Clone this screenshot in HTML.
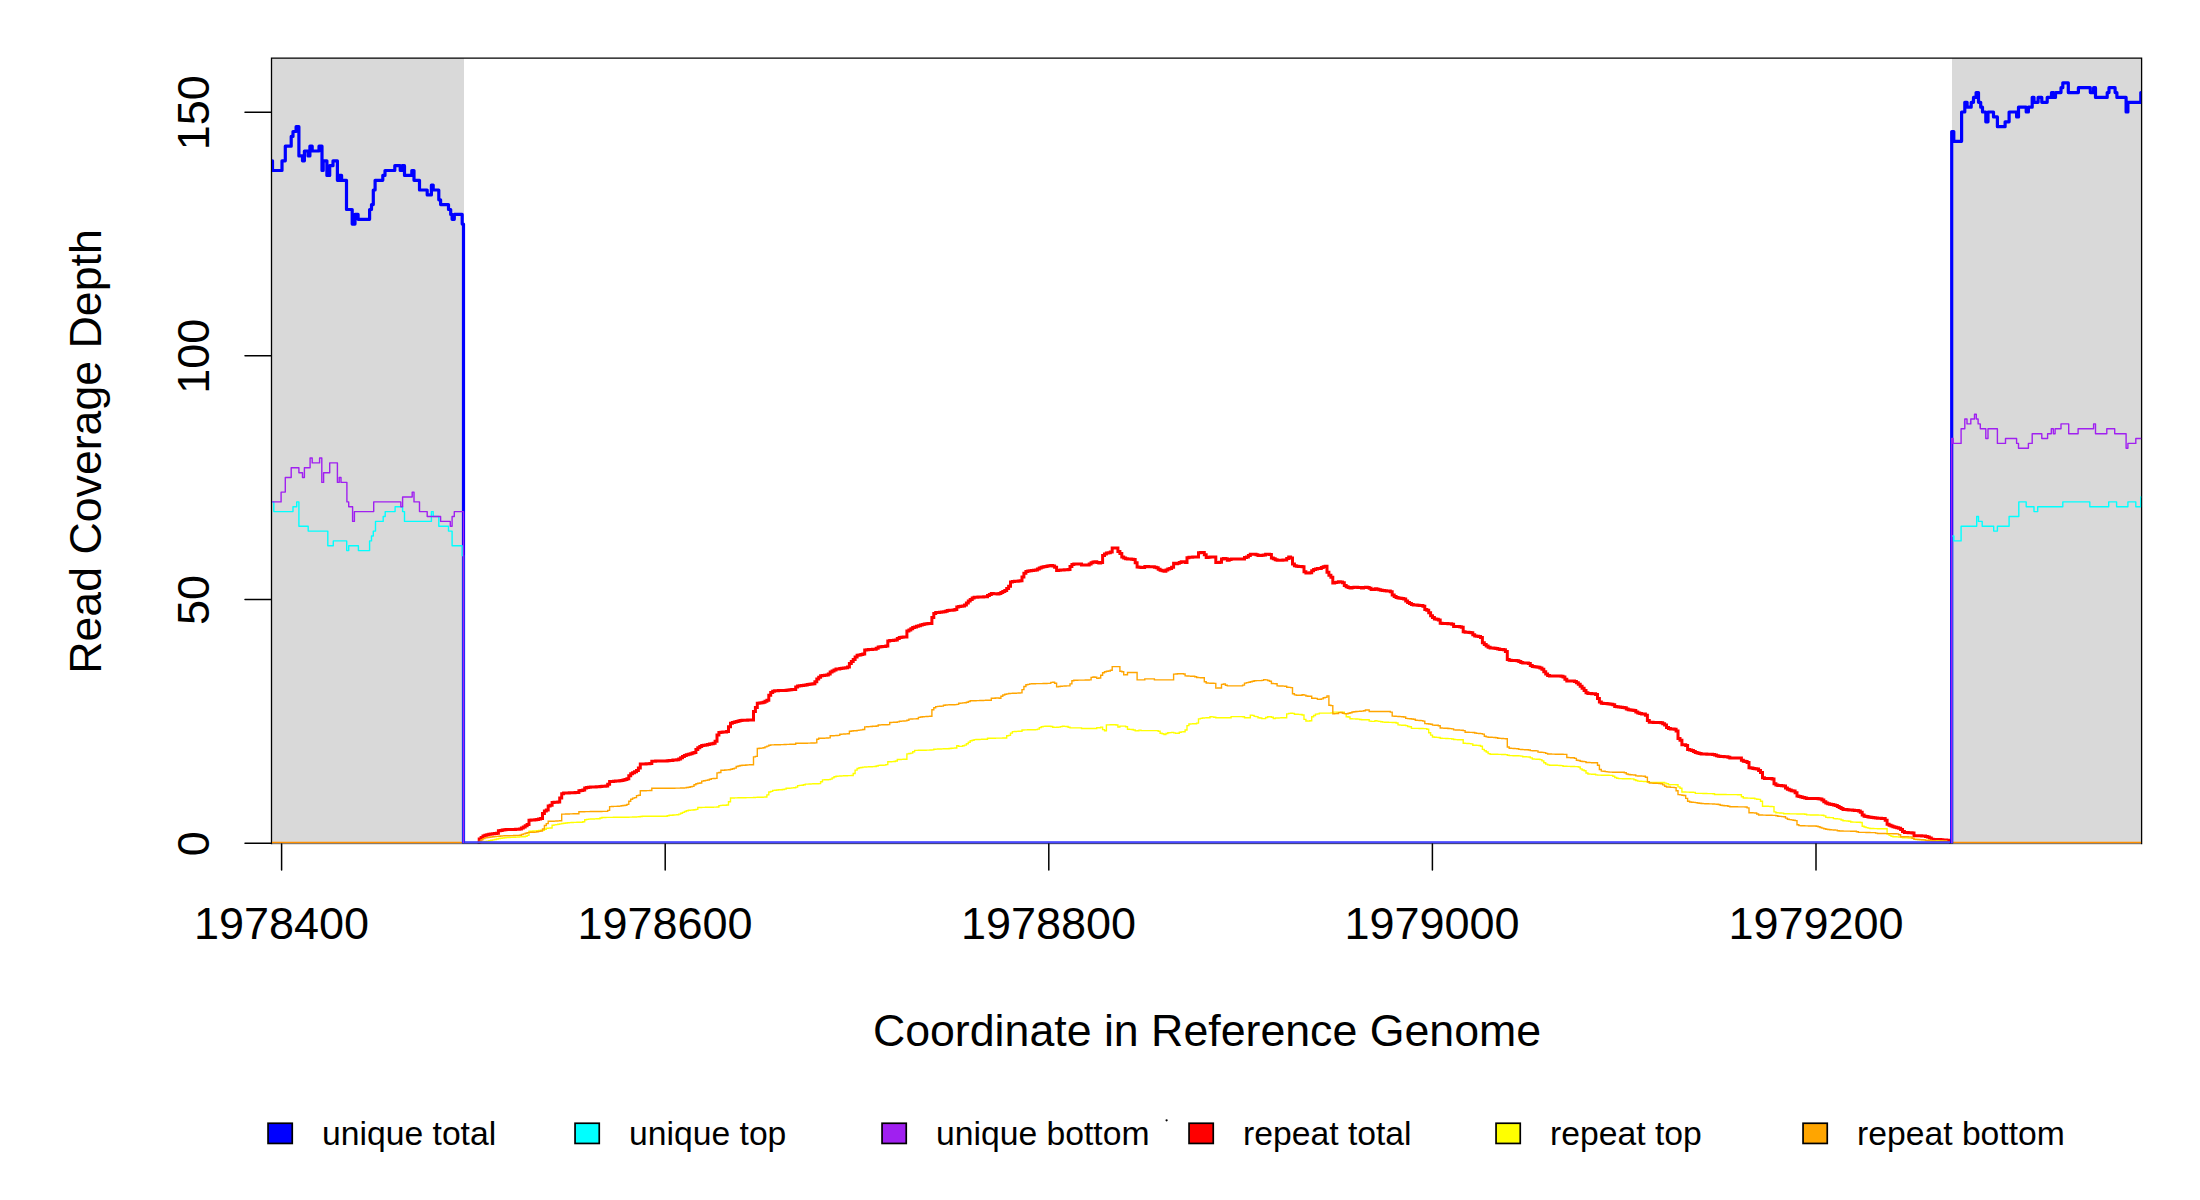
<!DOCTYPE html>
<html lang="en"><head><meta charset="utf-8"><title>Read Coverage Depth</title>
<style>html,body{margin:0;padding:0;background:#fff}body{width:2200px;height:1200px;overflow:hidden}</style></head>
<body>
<svg width="2200" height="1200" viewBox="0 0 2200 1200" style="display:block">
<rect width="2200" height="1200" fill="#fff"/>
<rect x="272" y="58" width="192" height="785" fill="#d9d9d9"/>
<rect x="1952" y="58" width="189" height="785" fill="#d9d9d9"/>
<path d="M271.5,844.2V58.2H2141.6V844.2" fill="none" stroke="#000" stroke-width="1.3"/>
<clipPath id="pc"><rect x="272" y="58" width="1869.1999999999998" height="785.5"/></clipPath>
<g clip-path="url(#pc)">
<path d="M477.5,843.0H479.2V839.1H481.1V837.5H483.0V836.0H484.9V835.3H486.8V834.7H488.8V834.3H490.7V834.1H492.6V833.8H494.5V833.6H496.4V833.3H498.4V830.7H500.3V830.4H502.2V830.1H504.1V829.8H506.0V829.6H507.9V829.6H509.9V829.5H511.8V829.4H513.7V829.4H515.6V829.3H517.5V829.2H519.5V829.0H521.4V828.0H523.3V827.0H525.2V825.8H527.1V824.4H529.0V820.2H531.0V820.1H532.9V819.9H534.8V819.8H536.7V819.6H538.6V819.0H540.6V818.4H542.5V813.6H544.4V811.1H546.3V810.1H548.2V806.0H550.1V805.2H552.1V802.4H554.0V802.3H555.9V802.2H557.8V802.1H559.7V797.9H561.7V793.8H563.6V793.1H565.5V792.9H567.4V792.9H569.3V792.8H571.2V792.7H573.2V792.7H575.1V792.6H577.0V792.5H578.9V790.7H580.8V790.4H582.8V790.1H584.7V787.9H586.6V787.6H588.5V787.3H590.4V787.1H592.3V787.0H594.3V786.9H596.2V786.8H598.1V786.7H600.0V786.5H601.9V786.3H603.9V786.2H605.8V786.0H607.7V784.2H609.6V781.6H611.5V781.4H613.4V781.3H615.4V781.1H617.3V781.0H619.2V780.8H621.1V780.4H623.0V779.9H625.0V779.5H626.9V778.7H628.8V775.8H630.7V773.7H632.6V772.8H634.5V771.8H636.5V770.5H638.4V768.1H640.3V764.1H642.2V764.0H644.1V763.9H646.1V763.8H648.0V763.8H649.9V763.6H651.8V761.2H655.6V761.1H659.5V761.0H663.3V760.9H667.2V760.8H669.1V760.6H671.0V760.4H672.9V760.1H674.8V759.9H676.7V759.7H678.7V758.9H680.6V757.7H682.5V756.6H684.4V755.6H686.3V754.8H688.3V754.2H690.2V753.7H692.1V753.1H694.0V752.5H695.9V749.6H697.8V747.8H699.8V746.5H701.7V745.6H703.6V745.3H705.5V744.9H707.4V744.5H709.4V744.1H711.3V743.7H713.2V743.3H715.1V741.2H717.0V735.0H718.9V732.6H720.9V732.3H722.8V732.1H724.7V731.9H726.6V731.5H728.5V726.7H730.5V723.2H732.4V722.6H734.3V722.1H736.2V721.5H738.1V721.0H740.0V720.5H742.0V720.3H743.9V720.2H745.8V720.2H747.7V720.1H749.6V720.1H751.6V719.9H753.5V711.5H755.4V707.5H757.3V703.2H759.2V702.9H761.1V702.7H763.1V702.2H765.0V701.2H766.9V700.2H768.8V695.2H770.7V692.5H772.7V691.2H774.6V690.8H776.5V690.7H778.4V690.6H780.3V690.5H782.3V690.5H784.2V690.4H786.1V690.2H788.0V690.0H789.9V689.8H791.8V689.6H793.8V689.4H795.7V686.9H797.6V686.1H799.5V685.8H801.4V685.5H803.4V685.3H805.3V684.9H807.2V684.6H809.1V684.3H811.0V684.0H812.9V683.7H814.9V681.8H816.8V679.1H818.7V677.2H820.6V675.8H822.5V675.6H824.5V675.3H826.4V675.1H828.3V674.0H830.2V672.0H832.1V670.9H834.0V670.0H836.0V669.1H837.9V668.9H839.8V668.6H841.7V668.3H843.6V668.0H845.6V667.7H847.5V667.0H849.4V663.6H851.3V661.5H853.2V659.4H855.1V657.1H857.1V655.3H859.0V654.9H860.9V654.5H862.8V654.1H864.7V650.1H866.7V649.7H868.6V649.6H870.5V649.5H872.4V649.3H874.3V649.2H876.2V648.2H878.2V647.0H880.1V646.8H882.0V646.6H883.9V646.4H885.8V645.9H887.8V640.9H889.7V640.6H891.6V640.5H893.5V640.3H895.4V640.1H897.3V638.5H899.3V637.4H901.2V637.2H903.1V637.1H905.0V636.9H906.9V631.1H908.9V629.9H910.8V628.7H912.7V627.6H914.6V626.9H916.5V626.3H918.4V625.7H920.4V625.1H922.3V624.5H924.2V624.1H926.1V623.8H928.0V623.6H930.0V623.4H931.9V617.4H933.8V613.4H935.7V612.6H937.6V612.4H939.5V612.2H941.5V612.0H943.4V611.7H945.3V611.2H947.2V610.4H949.1V610.3H951.1V610.2H953.0V610.1H954.9V609.4H956.8V607.0H958.7V606.6H960.6V606.3H962.6V605.9H964.5V605.0H966.4V603.1H968.3V601.1H970.2V599.5H972.2V598.1H974.1V597.2H976.0V597.2H977.9V597.1H979.8V597.0H981.7V596.9H983.7V596.8H985.6V596.7H987.5V595.6H989.4V594.4H991.3V593.6H993.3V593.7H995.2V593.8H997.1V593.9H999.0V593.6H1000.9V592.6H1002.8V591.6H1004.8V590.5H1006.7V588.4H1008.6V586.3H1010.5V582.1H1012.4V581.5H1014.4V581.3H1016.3V581.2H1018.2V581.0H1020.1V580.8H1022.0V577.0H1023.9V573.3H1025.9V571.6H1027.8V571.1H1029.7V570.8H1031.6V570.5H1033.5V570.3H1035.5V570.0H1037.4V569.0H1039.3V567.9H1041.2V567.2H1043.1V566.8H1045.0V566.5H1047.0V566.1H1048.9V565.7H1050.8V565.5H1052.7V566.0H1054.6V567.2H1056.6V570.5H1058.5V570.2H1060.4V570.0H1062.3V569.9H1064.2V569.8H1066.1V569.7H1068.1V569.6H1070.0V566.4H1071.9V564.5H1073.8V563.9H1081.5V565.1H1089.2V564.1H1091.1V562.7H1093.0V562.1H1094.9V561.8H1096.8V562.6H1098.8V562.9H1100.7V562.5H1102.6V555.6H1104.5V554.0H1106.4V552.9H1108.3V552.7H1110.3V552.0H1112.2V548.1H1117.9V551.4H1119.9V553.5H1121.8V557.0H1123.7V557.9H1125.6V558.7H1127.5V558.9H1129.4V559.0H1131.4V559.2H1133.3V559.4H1135.2V562.8H1137.1V567.1H1139.0V567.3H1141.0V567.4H1142.9V567.4H1144.8V566.5H1146.7V566.6H1148.6V566.7H1150.5V566.8H1152.5V566.8H1154.4V567.3H1156.3V567.8H1158.2V569.2H1160.1V570.3H1162.1V570.8H1164.0V571.3H1165.9V570.1H1167.8V569.0H1169.7V568.6H1171.6V567.3H1173.6V563.3H1175.5V563.8H1177.4V563.2H1179.3V562.5H1181.2V561.8H1185.1V562.6H1187.0V557.8H1188.9V557.3H1190.8V557.2H1192.7V557.1H1194.7V557.0H1196.6V556.9H1198.5V552.7H1200.4V552.4H1202.3V552.5H1204.3V554.7H1206.2V557.4H1208.1V557.2H1210.0V556.9H1215.8V562.6H1217.7V562.4H1219.6V562.3H1221.5V559.0H1223.4V558.5H1225.4V558.8H1227.3V560.2H1229.2V559.6H1231.1V559.1H1242.6V558.9H1244.5V557.6H1246.5V557.1H1248.4V555.6H1250.3V554.2H1256.0V554.7H1258.0V555.5H1259.9V555.4H1261.8V555.3H1263.7V555.0H1265.6V554.2H1269.5V554.4H1271.4V557.9H1273.3V558.8H1275.2V559.8H1277.1V560.3H1279.1V560.3H1281.0V560.2H1282.9V560.1H1284.8V560.1H1286.7V558.5H1288.7V556.9H1290.6V558.0H1292.5V564.1H1294.4V565.8H1296.3V566.3H1298.2V566.5H1300.2V566.6H1302.1V566.8H1304.0V571.7H1305.9V573.0H1307.8V572.9H1309.8V572.7H1311.7V570.7H1313.6V569.4H1315.5V568.9H1317.4V568.6H1319.3V568.4H1321.3V567.5H1323.2V566.7H1325.1V566.2H1327.0V572.3H1328.9V575.2H1330.9V577.2H1332.8V582.9H1334.7V582.6H1336.6V582.3H1338.5V581.7H1340.4V581.9H1342.4V582.8H1344.3V585.4H1346.2V586.8H1348.1V587.6H1350.0V587.9H1352.0V587.5H1353.9V587.2H1357.7V587.4H1359.6V587.5H1361.5V588.0H1363.5V587.5H1365.4V587.2H1367.3V587.4H1369.2V588.2H1371.1V589.4H1373.1V589.5H1375.0V588.8H1376.9V589.3H1378.8V589.7H1380.7V590.2H1382.6V590.5H1384.6V590.7H1386.5V590.9H1388.4V591.1H1390.3V591.7H1392.2V595.0H1394.2V596.4H1396.1V597.6H1398.0V597.9H1399.9V598.2H1401.8V598.5H1403.7V599.0H1405.7V601.0H1407.6V602.5H1409.5V603.5H1411.4V604.5H1413.3V605.0H1415.3V605.1H1417.2V605.3H1419.1V605.4H1421.0V605.5H1422.9V606.2H1424.8V609.4H1426.8V610.2H1428.7V612.7H1430.6V615.8H1432.5V617.5H1434.4V619.1H1436.4V619.3H1438.3V620.1H1440.2V623.3H1442.1V623.4H1444.0V623.5H1445.9V623.6H1447.9V623.7H1449.8V623.8H1451.7V624.3H1453.6V626.4H1455.5V626.5H1457.5V626.6H1459.4V626.7H1461.3V627.3H1463.2V631.8H1465.1V632.2H1467.0V632.3H1469.0V632.4H1470.9V632.8H1472.8V634.7H1474.7V636.0H1476.6V636.3H1478.6V636.5H1480.5V637.5H1482.4V642.7H1484.3V644.4H1486.2V645.9H1488.1V647.3H1490.1V647.9H1492.0V648.1H1493.9V648.2H1495.8V648.4H1497.7V649.0H1499.7V649.4H1501.6V649.5H1503.5V649.7H1505.4V651.5H1507.3V659.6H1509.2V660.3H1511.2V660.4H1513.1V660.5H1515.0V660.6H1516.9V660.8H1518.8V661.6H1520.8V662.5H1522.7V662.9H1524.6V663.0H1526.5V663.1H1528.4V663.5H1530.3V665.5H1532.3V666.4H1534.2V666.7H1536.1V667.0H1538.0V667.3H1539.9V668.1H1541.9V669.3H1543.8V671.7H1545.7V674.0H1547.6V675.5H1549.5V676.0H1553.4V676.1H1557.2V676.1H1561.0V676.3H1563.0V677.1H1564.9V679.3H1566.8V680.9H1568.7V680.9H1570.6V681.0H1572.5V681.1H1574.5V681.4H1576.4V682.8H1578.3V684.2H1580.2V686.3H1582.1V688.3H1584.1V690.4H1586.0V692.7H1587.9V693.5H1589.8V693.6H1591.7V693.7H1593.6V693.8H1595.6V694.6H1597.5V698.4H1599.4V702.0H1601.3V703.2H1603.2V703.4H1605.2V703.6H1607.1V703.8H1609.0V704.0H1610.9V704.2H1612.8V704.8H1614.7V706.5H1616.7V706.8H1618.6V707.0H1620.5V707.2H1622.4V707.4H1624.3V707.8H1626.3V708.9H1628.2V709.8H1630.1V710.1H1632.0V710.3H1633.9V710.6H1635.8V712.0H1637.8V713.0H1639.7V713.6H1641.6V713.9H1643.5V714.0H1645.4V715.3H1647.4V720.6H1649.3V722.2H1651.2V722.3H1653.1V722.4H1655.0V722.4H1656.9V722.5H1658.9V722.5H1660.8V722.8H1662.7V723.7H1664.6V725.1H1666.5V727.6H1668.5V728.6H1670.4V728.9H1672.3V729.1H1674.2V729.2H1676.1V731.1H1678.0V738.6H1680.0V740.2H1681.9V744.7H1683.8V744.8H1685.7V745.5H1687.6V749.6H1689.6V750.1H1691.5V750.6H1693.4V751.5H1695.3V752.5H1697.2V753.1H1699.1V753.5H1701.1V754.0H1703.0V754.1H1706.8V754.2H1710.7V754.3H1712.6V754.5H1714.5V755.1H1716.4V755.7H1718.3V756.3H1720.2V756.6H1722.2V756.6H1724.1V756.7H1726.0V756.8H1727.9V757.2H1729.8V757.9H1733.7V758.0H1737.5V758.1H1741.4V760.3H1743.3V761.3H1745.2V761.5H1747.1V762.5H1749.0V767.7H1750.9V768.0H1752.9V768.4H1754.8V768.7H1756.7V769.0H1758.6V770.5H1760.5V772.4H1762.5V777.7H1764.4V778.4H1766.3V778.5H1768.2V778.5H1770.1V778.6H1772.0V779.1H1774.0V783.8H1775.9V785.1H1777.8V785.5H1779.7V785.6H1781.6V785.7H1783.6V786.1H1785.5V787.9H1787.4V789.2H1789.3V790.1H1791.2V790.7H1793.1V791.0H1795.1V792.8H1797.0V796.0H1798.9V796.5H1800.8V797.0H1802.7V797.6H1804.7V798.1H1806.6V798.4H1812.3V798.5H1818.1V798.7H1820.0V799.1H1821.9V799.9H1823.8V801.7H1825.8V802.9H1827.7V803.7H1829.6V804.2H1831.5V804.5H1833.4V804.9H1835.3V805.4H1837.3V806.4H1839.2V807.4H1841.1V808.5H1843.0V809.4H1844.9V809.5H1846.9V809.7H1848.8V809.9H1850.7V810.1H1852.6V810.2H1854.5V810.4H1856.4V810.6H1858.4V811.1H1860.3V812.2H1862.2V815.1H1864.1V816.3H1866.0V816.6H1868.0V816.9H1869.9V817.2H1871.8V817.5H1873.7V817.8H1875.6V818.1H1877.5V818.2H1879.5V818.3H1881.4V818.4H1883.3V818.4H1885.2V820.3H1887.1V824.2H1889.1V825.2H1891.0V826.1H1892.9V826.7H1894.8V827.2H1896.7V827.8H1898.6V828.3H1900.6V829.5H1902.5V831.5H1904.4V832.5H1906.3V832.6H1908.2V832.7H1910.2V832.7H1912.1V833.0H1914.0V835.7H1917.8V835.8H1921.7V835.9H1925.5V836.5H1927.4V837.0H1929.3V838.0H1931.3V839.3H1933.2V839.4H1935.1V839.4H1937.0V839.5H1938.9V839.6H1940.8V839.7H1942.8V839.9H1944.7V840.1H1946.6V840.3H1948.5V841.0H1950.4V843.0H1951.1V843.0" fill="none" stroke="#ff0000" stroke-width="3.0" stroke-linejoin="miter" stroke-linecap="butt"/>
<path d="M480.0,843.0H481.1V842.5H483.0V842.0H484.9V841.5H486.8V841.1H488.8V840.7H490.7V840.3H492.6V839.9H494.5V839.5H496.4V839.0H498.4V838.5H500.3V838.2H502.2V838.0H504.1V837.8H506.0V837.6H507.9V837.5H509.9V837.4H511.8V837.3H513.7V837.2H515.6V837.1H517.5V837.0H519.5V836.9H521.4V836.8H523.3V836.7H525.2V836.2H527.1V835.4H529.0V831.3H531.0V831.2H532.9V831.0H534.8V830.9H536.7V830.7H538.6V830.5H540.6V830.3H542.5V830.2H544.4V829.3H546.3V828.3H548.2V828.1H550.1V828.0H552.1V825.2H554.0V824.9H555.9V824.6H557.8V824.2H559.7V823.9H561.7V823.5H563.6V823.2H565.5V823.0H567.4V822.8H569.3V822.6H571.2V822.5H573.2V822.4H575.1V822.4H577.0V822.3H578.9V822.3H580.8V822.2H582.8V821.7H584.7V819.8H586.6V819.4H588.5V819.1H590.4V819.0H592.3V819.0H594.3V818.9H596.2V818.8H598.1V818.7H600.0V818.0H601.9V817.5H605.8V817.4H609.6V817.4H613.4V817.3H617.3V817.3H621.1V817.2H625.0V817.2H628.8V817.1H632.6V817.0H636.5V816.9H638.4V816.7H640.3V816.5H642.2V816.3H648.0V816.3H655.6V816.2H663.3V816.2H667.2V815.8H669.1V815.3H671.0V815.2H672.9V815.0H674.8V814.9H676.7V814.7H678.7V814.1H680.6V813.2H682.5V812.4H684.4V811.5H686.3V810.7H688.3V810.3H690.2V810.1H692.1V810.0H694.0V809.8H695.9V809.4H697.8V807.5H701.7V807.4H705.5V807.3H709.4V807.2H713.2V807.1H717.0V807.0H718.9V805.6H720.9V805.4H722.8V805.3H724.7V805.2H726.6V805.0H728.5V801.7H730.5V798.0H734.3V797.9H738.1V797.8H742.0V797.7H745.8V797.6H749.6V797.6H753.5V797.5H755.4V797.4H757.3V797.3H759.2V797.2H761.1V797.2H763.1V797.1H765.0V797.0H766.9V794.9H768.8V792.0H770.7V791.4H772.7V790.4H774.6V790.2H776.5V790.0H778.4V789.8H780.3V789.7H782.3V789.5H784.2V789.1H786.1V788.3H788.0V788.2H789.9V788.1H791.8V787.9H793.8V787.8H795.7V787.1H797.6V785.6H799.5V785.4H801.4V785.3H803.4V784.7H805.3V784.1H807.2V784.1H809.1V784.0H811.0V783.9H812.9V783.8H814.9V783.8H816.8V783.7H818.7V783.6H820.6V781.7H822.5V779.9H824.5V779.8H826.4V779.7H828.3V779.6H830.2V779.1H832.1V777.9H834.0V776.7H836.0V776.2H837.9V776.1H839.8V776.0H841.7V775.9H843.6V775.8H845.6V775.7H847.5V775.6H849.4V775.6H851.3V775.5H853.2V773.5H855.1V770.1H857.1V768.5H859.0V767.8H860.9V767.5H862.8V767.1H864.7V767.0H866.7V766.9H868.6V766.8H870.5V766.7H872.4V766.6H874.3V766.5H876.2V766.0H878.2V765.4H880.1V765.3H882.0V765.2H883.9V765.1H885.8V764.6H887.8V761.8H889.7V761.7H891.6V761.6H893.5V761.5H895.4V761.0H897.3V759.5H899.3V759.5H901.2V759.4H903.1V759.3H905.0V759.2H906.9V753.9H908.9V753.5H910.8V753.1H912.7V751.8H914.6V750.4H918.4V750.3H922.3V750.2H926.1V750.1H930.0V750.0H931.9V749.9H933.8V749.2H935.7V749.1H937.6V749.0H939.5V749.0H941.5V748.9H943.4V748.8H945.3V748.8H947.2V748.7H949.1V748.5H951.1V748.3H953.0V748.1H954.9V748.0H956.8V745.7H958.7V746.4H962.6V745.7H964.5V745.1H966.4V743.8H968.3V742.2H970.2V740.8H972.2V740.2H974.1V739.6H976.0V739.5H977.9V739.5H979.8V739.4H981.7V739.3H983.7V739.2H985.6V739.2H987.5V738.3H991.3V738.2H995.2V738.1H999.0V738.1H1002.8V738.0H1006.7V735.8H1008.6V735.4H1010.5V733.1H1012.4V731.6H1014.4V731.5H1016.3V731.4H1018.2V731.3H1020.1V731.2H1022.0V730.0H1023.9V729.9H1025.9V729.9H1027.8V729.8H1029.7V729.8H1031.6V729.7H1033.5V729.7H1035.5V729.6H1037.4V729.1H1039.3V727.6H1041.2V726.8H1043.1V726.4H1045.0V726.2H1050.8V726.5H1052.7V727.2H1054.6V727.4H1056.6V727.2H1058.5V727.1H1060.4V726.6H1062.3V726.3H1064.2V726.4H1066.1V726.5H1068.1V727.3H1070.0V727.9H1081.5V728.5H1096.8V727.6H1098.8V727.8H1100.7V727.1H1102.6V729.6H1104.5V730.7H1106.4V724.9H1110.3V724.8H1114.1V724.7H1116.0V725.0H1117.9V727.0H1119.9V726.1H1125.6V726.8H1127.5V729.3H1129.4V729.4H1131.4V729.5H1133.3V730.0H1135.2V730.9H1137.1V730.7H1139.0V730.1H1141.0V730.6H1158.2V731.2H1160.1V733.3H1162.1V733.7H1164.0V734.6H1165.9V733.5H1167.8V732.7H1169.7V732.6H1171.6V732.4H1173.6V732.9H1175.5V733.4H1177.4V733.2H1179.3V732.3H1181.2V731.9H1183.2V731.8H1185.1V730.0H1187.0V725.6H1188.9V724.0H1190.8V723.9H1192.7V723.8H1194.7V723.7H1196.6V723.1H1198.5V718.9H1200.4V718.4H1202.3V718.0H1204.3V717.9H1206.2V717.8H1208.1V717.7H1210.0V716.7H1211.9V716.9H1213.8V717.2H1215.8V717.7H1231.1V716.6H1242.6V716.8H1244.5V717.7H1250.3V715.1H1252.2V715.4H1254.1V716.4H1256.0V716.6H1258.0V717.7H1259.9V718.0H1261.8V718.6H1265.6V717.5H1267.6V716.7H1271.4V717.3H1273.3V718.6H1275.2V718.0H1277.1V718.0H1279.1V717.9H1281.0V717.8H1282.9V717.8H1284.8V717.7H1286.7V713.9H1288.7V713.4H1290.6V713.3H1292.5V713.4H1294.4V714.2H1296.3V714.3H1298.2V714.4H1300.2V714.5H1302.1V715.0H1304.0V719.4H1305.9V721.0H1307.8V721.1H1309.8V720.8H1311.7V716.8H1313.6V715.5H1315.5V714.1H1317.4V713.9H1319.3V713.1H1330.9V712.9H1332.8V712.1H1342.4V712.3H1344.3V713.6H1346.2V716.7H1348.1V717.0H1350.0V718.8H1352.0V718.9H1353.9V718.9H1355.8V719.0H1357.7V719.1H1359.6V719.5H1361.5V719.8H1369.2V721.1H1371.1V721.4H1375.0V720.6H1376.9V721.1H1378.8V721.4H1380.7V721.7H1382.6V722.1H1384.6V722.2H1386.5V722.3H1388.4V722.4H1390.3V722.4H1392.2V722.5H1394.2V722.5H1396.1V723.0H1398.0V724.9H1399.9V725.1H1401.8V725.2H1403.7V725.3H1405.7V725.6H1407.6V726.5H1409.5V726.8H1411.4V728.4H1415.3V728.4H1419.1V728.5H1422.9V728.6H1426.8V729.2H1428.7V732.8H1430.6V735.1H1432.5V737.0H1434.4V737.3H1436.4V737.4H1438.3V737.5H1440.2V738.2H1442.1V738.4H1444.0V738.4H1445.9V738.5H1447.9V738.6H1449.8V738.6H1451.7V739.0H1453.6V739.5H1455.5V739.6H1457.5V739.7H1459.4V739.7H1461.3V739.8H1463.2V743.3H1465.1V743.4H1467.0V743.5H1469.0V743.6H1470.9V743.9H1472.8V745.2H1474.7V745.3H1476.6V745.4H1478.6V745.5H1480.5V746.2H1482.4V749.4H1484.3V750.7H1486.2V752.0H1488.1V753.6H1490.1V754.2H1493.9V754.3H1497.7V754.4H1501.6V754.5H1505.4V754.6H1507.3V755.2H1509.2V755.6H1511.2V755.6H1513.1V755.7H1515.0V755.8H1516.9V755.8H1518.8V755.9H1520.8V756.1H1522.7V756.7H1524.6V756.8H1526.5V756.9H1528.4V757.0H1530.3V757.9H1532.3V759.0H1534.2V759.1H1536.1V759.2H1538.0V759.3H1539.9V759.6H1541.9V760.9H1543.8V762.8H1545.7V764.1H1547.6V764.9H1549.5V765.2H1551.4V765.2H1553.4V765.3H1555.3V765.3H1557.2V765.4H1559.1V765.5H1561.0V765.6H1563.0V766.3H1566.8V766.4H1570.6V766.5H1574.5V766.6H1578.3V767.0H1580.2V768.9H1582.1V770.0H1584.1V770.7H1586.0V773.0H1587.9V774.0H1589.8V774.1H1591.7V774.2H1593.6V774.3H1595.6V774.9H1597.5V775.1H1601.3V775.2H1605.2V775.3H1609.0V775.4H1612.8V776.3H1614.7V777.5H1616.7V778.3H1618.6V778.6H1622.4V778.7H1626.3V778.8H1630.1V778.9H1633.9V779.7H1635.8V780.5H1637.8V781.1H1639.7V781.3H1641.6V781.4H1643.5V781.5H1645.4V781.6H1647.4V782.4H1662.7V782.5H1664.6V783.1H1666.5V783.8H1668.5V784.8H1670.4V784.6H1676.1V784.8H1678.0V786.9H1680.0V788.3H1681.9V792.0H1685.7V792.1H1689.6V792.2H1693.4V792.4H1695.3V793.4H1699.1V793.4H1703.0V793.5H1706.8V793.6H1710.7V793.6H1712.6V793.8H1714.5V794.5H1720.2V794.5H1726.0V794.6H1731.8V794.6H1737.5V794.7H1741.4V796.7H1743.3V798.0H1747.1V798.1H1750.9V798.2H1754.8V798.9H1756.7V799.2H1758.6V799.4H1760.5V801.3H1762.5V806.2H1764.4V806.3H1766.3V806.3H1768.2V806.4H1770.1V806.5H1772.0V806.6H1774.0V811.9H1775.9V812.8H1777.8V812.9H1779.7V813.0H1781.6V813.1H1783.6V813.7H1785.5V813.8H1789.3V813.9H1793.1V813.9H1797.0V814.0H1800.8V814.0H1804.7V814.3H1806.6V814.9H1810.4V815.0H1814.2V815.0H1818.1V815.1H1821.9V815.2H1823.8V815.9H1825.8V817.4H1827.7V817.5H1829.6V817.6H1831.5V817.6H1833.4V818.6H1835.3V818.8H1837.3V818.9H1839.2V819.1H1841.1V820.0H1843.0V820.7H1844.9V820.9H1846.9V821.0H1848.8V821.3H1850.7V822.0H1852.6V822.1H1854.5V822.1H1856.4V822.2H1858.4V822.2H1860.3V822.5H1862.2V826.3H1864.1V827.0H1866.0V827.6H1868.0V828.1H1869.9V828.5H1873.7V828.6H1877.5V828.7H1881.4V828.7H1885.2V828.8H1887.1V834.1H1889.1V835.3H1891.0V836.2H1892.9V836.8H1894.8V836.8H1896.7V836.9H1898.6V837.0H1900.6V837.3H1902.5V837.8H1904.4V837.9H1906.3V837.9H1908.2V838.0H1910.2V838.1H1912.1V838.4H1914.0V839.3H1915.9V839.5H1917.8V839.6H1919.7V839.7H1921.7V839.9H1923.6V840.0H1925.5V840.2H1927.4V840.3H1929.3V840.5H1931.3V840.6H1933.2V840.7H1935.1V840.8H1937.0V840.8H1938.9V840.9H1940.8V841.0H1942.8V841.1H1944.7V841.2H1946.6V841.7H1948.5V842.4H1950.4V843.0H1951.1V843.0" fill="none" stroke="#ffff00" stroke-width="1.4" stroke-linejoin="miter" stroke-linecap="butt"/>
<path d="M478.3,843.0H479.2V841.4H481.1V839.8H483.0V838.6H484.9V837.9H486.8V837.6H488.8V837.3H490.7V837.0H492.6V836.8H494.5V836.6H496.4V836.4H498.4V836.2H500.3V836.0H502.2V835.9H504.1V835.8H506.0V835.7H507.9V835.7H509.9V835.6H511.8V835.6H513.7V835.5H515.6V835.4H517.5V835.4H519.5V835.2H521.4V834.5H523.3V833.9H525.2V833.2H527.1V832.6H529.0V832.4H531.0V832.3H532.9V832.2H534.8V832.1H536.7V831.8H538.6V831.4H540.6V831.0H542.5V829.0H544.4V825.5H546.3V823.6H548.2V821.3H550.1V821.3H552.1V821.2H554.0V821.1H555.9V821.0H557.8V820.9H559.7V820.8H561.7V814.1H563.6V814.1H565.5V814.0H567.4V814.0H569.3V813.9H571.2V813.9H573.2V813.8H575.1V813.7H577.0V813.7H578.9V811.7H584.7V811.6H590.4V811.5H596.2V811.5H601.9V811.4H607.7V810.4H609.6V806.6H611.5V806.5H613.4V806.4H615.4V806.4H617.3V806.3H619.2V806.1H621.1V805.8H623.0V805.5H625.0V805.2H626.9V804.4H628.8V801.2H630.7V799.2H632.6V798.1H634.5V797.6H636.5V795.6H638.4V795.2H640.3V790.8H642.2V790.8H644.1V790.7H646.1V790.6H648.0V790.6H649.9V790.5H651.8V788.3H657.6V788.3H663.3V788.2H669.1V788.2H674.8V788.1H680.6V788.0H684.4V787.9H686.3V787.5H688.3V787.2H690.2V786.8H692.1V786.4H694.0V784.7H695.9V783.7H697.8V783.3H699.8V783.0H701.7V781.1H703.6V780.8H705.5V780.4H707.4V780.0H709.4V779.3H711.3V778.6H713.2V778.5H715.1V778.4H717.0V772.9H718.9V772.5H720.9V770.3H722.8V770.2H724.7V770.0H726.6V769.9H728.5V769.7H730.5V769.3H732.4V768.8H734.3V768.1H736.2V766.5H738.1V766.0H740.0V765.5H742.0V765.3H743.9V765.2H745.8V765.0H747.7V764.9H749.6V764.8H751.6V764.7H753.5V756.9H755.4V756.4H757.3V748.5H759.2V748.3H761.1V748.1H763.1V747.7H765.0V746.9H766.9V746.1H768.8V745.2H770.7V744.9H772.7V744.9H774.6V744.8H776.5V744.8H778.4V744.7H780.3V744.6H782.3V744.6H784.2V744.5H786.1V744.4H788.0V744.4H789.9V744.3H791.8V744.2H793.8V744.2H795.7V743.3H799.5V743.2H803.4V743.2H807.2V743.1H811.0V743.0H814.9V742.9H816.8V739.3H818.7V738.3H820.6V738.2H822.5V738.2H824.5V738.1H826.4V738.0H828.3V737.9H830.2V735.8H832.1V735.7H834.0V735.6H836.0V735.5H837.9V735.4H839.8V734.2H841.7V734.1H843.6V734.0H845.6V733.9H847.5V733.8H849.4V731.2H851.3V731.0H853.2V730.8H855.1V730.7H857.1V730.4H859.0V730.1H860.9V729.9H862.8V729.5H864.7V726.9H866.7V726.7H868.6V726.6H870.5V726.5H872.4V726.3H874.3V726.2H876.2V726.0H878.2V725.0H880.1V724.9H882.0V724.8H883.9V724.7H885.8V724.7H887.8V724.6H889.7V722.5H891.6V722.4H893.5V722.3H895.4V722.2H897.3V721.9H899.3V721.2H901.2V721.1H903.1V721.0H905.0V720.9H906.9V720.2H908.9V719.1H910.8V719.0H912.7V718.9H914.6V718.9H916.5V718.8H918.4V717.4H920.4V717.0H922.3V716.7H924.2V716.6H926.1V716.5H928.0V716.4H930.0V716.3H931.9V709.8H933.8V707.7H935.7V706.6H937.6V706.4H939.5V706.2H941.5V706.1H943.4V705.3H945.3V705.0H947.2V704.9H949.1V704.8H951.1V704.8H953.0V704.7H954.9V704.6H956.8V704.4H958.7V703.3H960.6V703.1H962.6V702.9H964.5V702.7H966.4V702.3H968.3V701.5H970.2V700.8H972.2V700.8H974.1V700.7H976.0V700.6H977.9V700.6H979.8V700.5H981.7V700.5H983.7V700.4H985.6V700.3H987.5V700.3H989.4V700.2H991.3V698.3H993.3V698.2H995.2V698.0H997.1V697.9H999.0V698.2H1000.9V696.2H1002.8V695.0H1004.8V694.3H1006.7V693.9H1008.6V693.5H1010.5V693.4H1012.4V693.3H1014.4V693.2H1016.3V693.1H1018.2V693.0H1020.1V692.9H1022.0V689.6H1023.9V686.5H1025.9V684.8H1027.8V684.4H1029.7V683.9H1031.6V683.7H1035.5V683.6H1039.3V683.6H1043.1V683.5H1047.0V683.4H1050.8V682.4H1052.7V682.3H1054.6V683.3H1056.6V686.9H1058.5V686.5H1060.4V686.2H1062.3V686.1H1064.2V686.0H1066.1V685.9H1068.1V685.9H1070.0V683.9H1071.9V680.7H1073.8V680.2H1077.7V680.1H1081.5V680.1H1085.3V680.0H1089.2V679.9H1091.1V677.4H1093.0V677.0H1094.9V677.3H1096.8V678.4H1098.8V678.0H1100.7V675.2H1102.6V672.7H1104.5V671.7H1106.4V671.3H1108.3V671.0H1110.3V670.3H1112.2V666.6H1119.9V671.3H1121.8V671.8H1123.7V674.9H1125.6V674.7H1127.5V672.5H1137.1V679.9H1144.8V678.9H1154.4V679.9H1173.6V674.1H1175.5V674.0H1177.4V673.8H1179.3V673.7H1181.2V673.6H1183.2V674.0H1185.1V675.9H1187.0V676.0H1188.9V676.1H1190.8V676.2H1192.7V676.3H1194.7V676.7H1196.6V677.5H1198.5V677.6H1200.4V677.7H1202.3V677.8H1204.3V681.7H1206.2V683.0H1208.1V683.1H1210.0V683.2H1211.9V683.3H1213.8V683.4H1215.8V688.1H1217.7V688.0H1219.6V688.0H1221.5V684.4H1223.4V684.0H1225.4V685.3H1227.3V685.9H1242.6V685.1H1244.5V683.1H1246.5V682.6H1248.4V682.2H1250.3V681.7H1252.2V681.2H1254.1V680.7H1256.0V680.6H1261.8V680.4H1263.7V679.6H1265.6V679.9H1267.6V680.5H1269.5V681.3H1271.4V683.5H1273.3V683.6H1275.2V683.8H1277.1V685.9H1279.1V686.0H1281.0V686.0H1282.9V686.1H1284.8V686.2H1286.7V687.3H1288.7V687.4H1290.6V687.6H1292.5V693.8H1294.4V694.9H1296.3V695.2H1298.2V695.2H1302.1V694.7H1304.0V695.1H1305.9V696.0H1307.8V696.2H1309.8V696.3H1311.7V698.2H1313.6V698.3H1315.5V698.4H1317.4V699.4H1319.3V699.2H1321.3V698.9H1323.2V697.7H1325.1V697.4H1327.0V695.9H1328.9V705.3H1330.9V705.6H1332.8V713.8H1334.7V713.6H1336.6V713.5H1338.5V712.6H1340.4V712.5H1342.4V713.2H1344.3V713.6H1346.2V713.7H1348.1V713.3H1350.0V712.8H1352.0V712.0H1353.9V711.7H1355.8V711.5H1357.7V711.4H1359.6V711.3H1361.5V711.1H1363.5V710.8H1365.4V710.0H1369.2V711.5H1390.3V712.1H1392.2V716.1H1394.2V716.2H1396.1V716.4H1398.0V716.5H1399.9V716.6H1401.8V716.7H1403.7V717.0H1405.7V718.4H1407.6V718.6H1409.5V718.8H1411.4V719.0H1413.3V719.3H1415.3V720.3H1417.2V720.4H1419.1V720.5H1421.0V720.6H1422.9V721.1H1424.8V723.6H1426.8V723.8H1428.7V724.0H1430.6V724.2H1432.5V725.1H1434.4V725.2H1436.4V725.3H1438.3V725.8H1440.2V728.0H1442.1V728.1H1444.0V728.2H1445.9V728.3H1447.9V728.5H1449.8V728.6H1451.7V728.9H1453.6V729.9H1455.5V730.0H1457.5V730.0H1459.4V730.1H1461.3V730.2H1463.2V730.6H1465.1V732.2H1467.0V732.3H1469.0V732.4H1470.9V732.4H1472.8V732.5H1474.7V733.0H1476.6V733.4H1478.6V733.5H1480.5V733.6H1482.4V734.1H1484.3V736.2H1486.2V736.9H1488.1V737.2H1490.1V737.3H1492.0V737.4H1493.9V737.5H1495.8V737.7H1497.7V738.3H1499.7V738.4H1501.6V738.5H1503.5V738.6H1505.4V738.7H1507.3V747.0H1509.2V748.3H1511.2V748.4H1513.1V748.5H1515.0V748.6H1516.9V748.8H1518.8V749.4H1520.8V749.5H1522.7V749.6H1524.6V749.7H1526.5V749.7H1528.4V750.0H1530.3V750.6H1532.3V750.7H1534.2V750.8H1536.1V750.9H1538.0V752.1H1539.9V752.2H1541.9V752.4H1543.8V752.6H1545.7V753.4H1547.6V754.0H1551.4V754.1H1555.3V754.2H1559.1V754.3H1563.0V754.4H1566.8V757.5H1568.7V757.6H1570.6V757.7H1572.5V757.8H1574.5V758.4H1576.4V760.2H1578.3V760.5H1580.2V761.3H1582.1V761.5H1584.1V761.6H1586.0V762.5H1587.9V762.5H1589.8V762.6H1591.7V762.7H1593.6V762.7H1595.6V762.8H1597.5V765.2H1599.4V769.5H1601.3V771.1H1603.2V771.3H1605.2V771.6H1607.1V771.9H1609.0V772.1H1612.8V772.2H1616.7V772.2H1620.5V772.3H1624.3V772.7H1626.3V774.0H1628.2V774.5H1630.1V774.7H1632.0V774.9H1633.9V775.0H1635.8V775.9H1637.8V776.0H1639.7V776.0H1641.6V776.1H1643.5V776.2H1645.4V777.2H1647.4V781.7H1649.3V783.0H1651.2V783.1H1653.1V783.2H1655.0V783.3H1656.9V783.4H1658.9V783.5H1660.8V783.8H1662.7V784.9H1664.6V786.3H1666.5V787.0H1670.4V787.4H1674.2V787.6H1676.1V790.7H1678.0V794.6H1680.0V794.9H1681.9V795.2H1683.8V795.5H1685.7V798.4H1687.6V801.3H1689.6V802.0H1691.5V802.2H1693.4V802.4H1695.3V802.6H1697.2V803.0H1699.1V803.3H1701.1V803.5H1703.0V803.6H1704.9V803.7H1706.8V803.8H1708.7V803.9H1710.7V803.9H1712.6V804.0H1714.5V804.1H1716.4V804.2H1718.3V804.5H1720.2V805.3H1722.2V805.5H1724.1V805.7H1726.0V805.8H1727.9V806.2H1729.8V806.7H1733.7V806.8H1737.5V806.9H1741.4V806.9H1745.2V807.0H1747.1V807.9H1749.0V812.8H1750.9V812.8H1752.9V812.9H1754.8V813.0H1756.7V814.0H1758.6V815.0H1760.5V815.0H1762.5V815.1H1764.4V815.1H1766.3V815.2H1768.2V815.2H1770.1V815.3H1772.0V815.4H1774.0V815.4H1775.9V815.7H1777.8V816.3H1779.7V816.4H1781.6V816.6H1783.6V816.7H1785.5V818.1H1787.4V819.2H1789.3V819.6H1791.2V819.9H1793.1V820.3H1795.1V820.6H1797.0V824.8H1798.9V825.6H1800.8V825.8H1804.7V825.9H1808.5V826.0H1812.3V826.0H1816.2V826.2H1818.1V826.8H1820.0V827.5H1821.9V828.1H1823.8V828.7H1825.8V829.2H1827.7V829.5H1829.6V829.7H1831.5V829.9H1833.4V830.0H1835.3V830.1H1837.3V830.7H1839.2V831.0H1843.0V831.1H1846.9V831.1H1850.7V831.2H1854.5V831.3H1856.4V831.8H1858.4V832.4H1862.2V832.4H1866.0V832.5H1869.9V832.6H1873.7V832.6H1875.6V833.1H1877.5V833.5H1881.4V833.5H1885.2V833.6H1889.1V833.6H1892.9V833.7H1896.7V833.9H1898.6V834.8H1900.6V836.7H1904.4V836.8H1908.2V836.9H1912.1V838.3H1914.0V839.4H1915.9V839.4H1917.8V839.5H1919.7V839.6H1921.7V839.7H1923.6V839.9H1925.5V840.6H1927.4V840.8H1929.3V840.9H1931.3V841.0H1933.2V841.0H1935.1V841.1H1937.0V841.1H1938.9V841.2H1940.8V841.2H1942.8V841.3H1944.7V841.3H1946.6V841.8H1948.5V842.4H1950.4V843.0H1951.1V843.0" fill="none" stroke="#ffa500" stroke-width="1.4" stroke-linejoin="miter" stroke-linecap="butt"/>
<path d="M272,842.6H463M1952,842.6H2141.5" stroke="#ff9000" stroke-width="1.6" fill="none"/>
<path d="M272.5,160.8H272.5V170.5H282.0V160.8H285.3V146.2H291.2V136.4H293.0V131.5H296.1V126.7H298.9V155.9H302.5V160.8H304.4V151.0H308.0V155.9H309.9V146.2H312.2V151.0H319.0V146.2H322.0V170.5H323.2V160.8H326.9V175.4H329.7V165.7H333.0V160.8H337.4V180.3H339.2V175.4H341.6V180.3H346.5V209.5H352.2V224.1H355.0V214.4H358.1V219.3H369.6V209.5H371.5V204.6H373.3V190.0H375.1V180.3H382.8V175.4H385.0V170.5H394.8V165.7H400.2V170.5H402.1V165.7H404.5V175.4H411.8V170.5H414.0V180.3H419.5V190.0H427.2V194.9H431.4V185.1H433.2V190.0H438.8V199.8H440.6V204.6H448.5V209.5H450.7V214.4H452.1V219.3H454.3V214.4H462.2V224.1H463.5V843.0H1951.7V131.5H1953.8V141.3H1961.6V112.0H1964.8V102.3H1967.1V107.2H1971.2V102.3H1973.5V97.4H1976.1V92.6H1978.5V102.3H1980.7V107.2H1982.5V112.0H1985.8V121.8H1988.0V112.0H1993.5V116.9H1997.4V126.7H2005.1V121.8H2009.1V112.0H2016.6V116.9H2018.5V107.2H2026.2V112.0H2028.4V107.2H2032.2V97.4H2034.0V102.3H2038.1V97.4H2041.8V102.3H2047.2V97.4H2051.5V92.6H2053.7V97.4H2055.5V92.6H2061.0V87.7H2062.8V82.8H2068.3V92.6H2078.4V87.7H2090.3V92.6H2093.6V87.7H2095.5V97.4H2107.2V92.6H2109.0V87.7H2115.1V92.6H2116.9V97.4H2126.1V112.0H2127.9V102.3H2140.8V92.6H2141.7V92.6" fill="none" stroke="#0000ff" stroke-width="3.2" stroke-linejoin="round" stroke-linecap="round"/>
<path d="M272.5,501.9H273.8V511.6H293.0V506.8H296.7V501.9H298.9V526.3H308.2V531.1H327.8V545.7H333.3V540.9H346.7V550.6H348.7V545.7H358.4V550.6H369.6V540.9H371.5V536.0H373.3V531.1H375.5V521.4H383.2V516.5H385.2V511.6H395.1V506.8H402.6V511.6H404.5V521.4H431.4V511.6H433.2V516.5H438.8V526.3H448.5V531.1H452.1V545.7H462.2V555.5H463.5V843.0" fill="none" stroke="#00ffff" stroke-width="1.4" stroke-linejoin="round" stroke-linecap="round"/>
<path d="M1951.7,843.0H1951.7V536.0H1953.8V540.9H1961.1V526.3H1976.7V516.5H1978.5V521.4H1982.2V526.3H1993.7V531.1H1997.4V526.3H2009.1V516.5H2018.8V501.9H2026.2V506.8H2034.0V511.6H2037.7V506.8H2062.8V501.9H2089.8V506.8H2108.7V501.9H2116.6V506.8H2127.9V501.9H2135.8V506.8H2140.8V497.0H2141.7V497.0" fill="none" stroke="#00ffff" stroke-width="1.4" stroke-linejoin="round" stroke-linecap="round"/>
<path d="M272.5,501.9H281.1V492.1H285.3V477.5H291.2V467.8H298.9V472.7H302.5V477.5H304.4V467.8H310.1V458.0H312.2V462.9H319.6V458.0H321.8V482.4H323.6V472.7H329.7V462.9H337.4V482.4H339.2V477.5H341.0V482.4H346.9V501.9H348.7V506.8H352.6V521.4H354.4V511.6H373.7V501.9H400.8V506.8H402.6V497.0H412.2V492.1H414.0V501.9H419.5V511.6H427.2V516.5H440.6V521.4H450.3V526.3H452.1V516.5H454.3V511.6H463.5V843.0" fill="none" stroke="#a020f0" stroke-width="1.4" stroke-linejoin="round" stroke-linecap="round"/>
<path d="M1951.7,843.0H1951.7V438.5H1953.2V443.4H1961.1V428.8H1964.8V419.0H1967.0V423.9H1970.8V419.0H1974.5V414.2H1976.3V419.0H1978.1V423.9H1980.3V428.8H1985.8V438.5H1988.0V428.8H1997.4V443.4H2005.5V438.5H2016.6V443.4H2018.5V448.3H2028.4V443.4H2032.2V433.7H2041.8V438.5H2047.6V433.7H2051.3V428.8H2053.3V433.7H2055.1V428.8H2061.0V423.9H2068.7V433.7H2078.1V428.8H2093.6V423.9H2095.5V433.7H2106.8V428.8H2114.7V433.7H2126.1V448.3H2127.9V443.4H2135.8V438.5H2141.7V438.5" fill="none" stroke="#a020f0" stroke-width="1.4" stroke-linejoin="round" stroke-linecap="round"/>
<path d="M465,842.4H1950" stroke="#4848ff" stroke-width="1.7" fill="none"/>
</g>
<path d="M272,843.6H2141" stroke="#000" stroke-opacity="0.45" stroke-width="1.2" fill="none"/>
<g stroke="#000" stroke-width="1.5" fill="none" stroke-linecap="round">
<path d="M245,843.2H271"/>
<path d="M245,599.5H271"/>
<path d="M245,355.8H271"/>
<path d="M245,112.2H271"/>
<path d="M281.6,844V870"/>
<path d="M665.2,844V870"/>
<path d="M1048.8,844V870"/>
<path d="M1432.4,844V870"/>
<path d="M1816,844V870"/>
</g>
<g font-family="&quot;Liberation Sans&quot;, Arial, sans-serif" fill="#000">
<g font-size="45" text-anchor="middle">
<text x="281.5" y="939">1978400</text>
<text x="665" y="939">1978600</text>
<text x="1048.5" y="939">1978800</text>
<text x="1432" y="939">1979000</text>
<text x="1816" y="939">1979200</text>
<text transform="translate(208.6,843.7) rotate(-90)">0</text>
<text transform="translate(208.6,600.0) rotate(-90)">50</text>
<text transform="translate(208.6,356.3) rotate(-90)">100</text>
<text transform="translate(208.6,112.7) rotate(-90)">150</text>
<text x="1207" y="1046" font-size="44.7">Coordinate in Reference Genome</text>
<text transform="translate(101.3,451.5) rotate(-90)" font-size="44.7">Read Coverage Depth</text>
</g>
<g font-size="33.7">
<rect x="268.05" y="1123.25" width="24.2" height="20.2" fill="#0000ff" stroke="#000" stroke-width="1.7"/>
<text x="322.0" y="1145">unique total</text>
<rect x="575.05" y="1123.25" width="24.2" height="20.2" fill="#00ffff" stroke="#000" stroke-width="1.7"/>
<text x="629.0" y="1145">unique top</text>
<rect x="882.05" y="1123.25" width="24.2" height="20.2" fill="#a020f0" stroke="#000" stroke-width="1.7"/>
<text x="936.0" y="1145">unique bottom</text>
<rect x="1189.05" y="1123.25" width="24.2" height="20.2" fill="#ff0000" stroke="#000" stroke-width="1.7"/>
<text x="1243.0" y="1145">repeat total</text>
<rect x="1496.05" y="1123.25" width="24.2" height="20.2" fill="#ffff00" stroke="#000" stroke-width="1.7"/>
<text x="1550.0" y="1145">repeat top</text>
<rect x="1803.05" y="1123.25" width="24.2" height="20.2" fill="#ffa500" stroke="#000" stroke-width="1.7"/>
<text x="1857.0" y="1145">repeat bottom</text>
</g>
</g>
<circle cx="1166.6" cy="1120.3" r="1.15" fill="#000"/>
</svg>
</body></html>
